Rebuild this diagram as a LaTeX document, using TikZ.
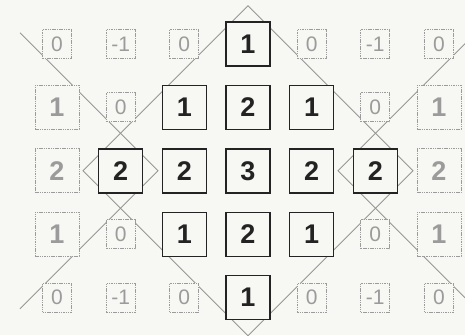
\documentclass[tikz,border=0pt]{standalone}
\usepackage{fontspec}
\setmainfont{Liberation Sans}
\definecolor{bg}{RGB}{247,247,243}
\definecolor{ln}{RGB}{150,150,150}
\definecolor{gr}{RGB}{155,155,155}
\definecolor{dk}{RGB}{35,35,35}
\tikzset{
  blk/.style={draw=dk, line width=1.4pt, fill=bg, minimum size=44pt, inner sep=0pt, text=dk,
    font=\fontsize{27}{27}\selectfont\bfseries},
  glg/.style={draw=gr, line width=1pt, dash pattern=on 1.5pt off 0.8pt, fill=bg, minimum size=44pt, inner sep=0pt, text=gr,
    font=\fontsize{27}{27}\selectfont\bfseries},
  gsm/.style={draw=gr, line width=1pt, dash pattern=on 1.5pt off 0.8pt, fill=bg, minimum size=29pt, inner sep=0pt, text=gr,
    font=\fontsize{21}{21}\selectfont},
  diag/.style={draw=ln, line width=0.9pt, line join=miter}
}
\begin{document}
\begin{tikzpicture}[x=1pt, y=-1pt]
\useasboundingbox (0,0) rectangle (465,335);
\fill[bg] (0,0) rectangle (465,335);
\clip (0,0) rectangle (465,335);
% line vertices
\coordinate (dT) at (248,5.8);
\coordinate (dL) at (83,170.8);
\coordinate (dB) at (248,335.8);
\coordinate (dR) at (413,170.8);
\coordinate (zLa) at (20,32.8);
\coordinate (zLv) at (158,170.8);
\coordinate (zLb) at (20,308.8);
\coordinate (zRa) at (476,32.8);
\coordinate (zRv) at (338,170.8);
\coordinate (zRb) at (476,308.8);
\draw[diag] (dT) -- (dL) -- (dB) -- (dR) -- cycle;
\draw[diag] (zLa) -- (zLv) -- (zLb);
\draw[diag] (zRa) -- (zRv) -- (zRb);
% row 1
\node[gsm] (n11) at (57,44) {0};
\node[gsm] (n12) at (120.7,44) {-1};
\node[gsm] (n13) at (184.3,44) {0};
\node[blk] (n14) at (248,44) {1};
\node[gsm] (n15) at (311.7,44) {0};
\node[gsm] (n16) at (375.3,44) {-1};
\node[gsm] (n17) at (439,44) {0};
% row 2
\node[glg] (n21) at (57,107.4) {1};
\node[gsm] (n22) at (120.7,107.4) {0};
\node[blk] (n23) at (184.3,107.4) {1};
\node[blk] (n24) at (248,107.4) {2};
\node[blk] (n25) at (311.7,107.4) {1};
\node[gsm] (n26) at (375.3,107.4) {0};
\node[glg] (n27) at (439,107.4) {1};
% row 3
\node[glg] (n31) at (57,170.8) {2};
\node[blk] (n32) at (120.7,170.8) {2};
\node[blk] (n33) at (184.3,170.8) {2};
\node[blk] (n34) at (248,170.8) {3};
\node[blk] (n35) at (311.7,170.8) {2};
\node[blk] (n36) at (375.3,170.8) {2};
\node[glg] (n37) at (439,170.8) {2};
% row 4
\node[glg] (n41) at (57,234.2) {1};
\node[gsm] (n42) at (120.7,234.2) {0};
\node[blk] (n43) at (184.3,234.2) {1};
\node[blk] (n44) at (248,234.2) {2};
\node[blk] (n45) at (311.7,234.2) {1};
\node[gsm] (n46) at (375.3,234.2) {0};
\node[glg] (n47) at (439,234.2) {1};
% row 5
\node[gsm] (n51) at (57,297.6) {0};
\node[gsm] (n52) at (120.7,297.6) {-1};
\node[gsm] (n53) at (184.3,297.6) {0};
\node[blk] (n54) at (248,297.6) {1};
\node[gsm] (n55) at (311.7,297.6) {0};
\node[gsm] (n56) at (375.3,297.6) {-1};
\node[gsm] (n57) at (439,297.6) {0};
\end{tikzpicture}
\end{document}
